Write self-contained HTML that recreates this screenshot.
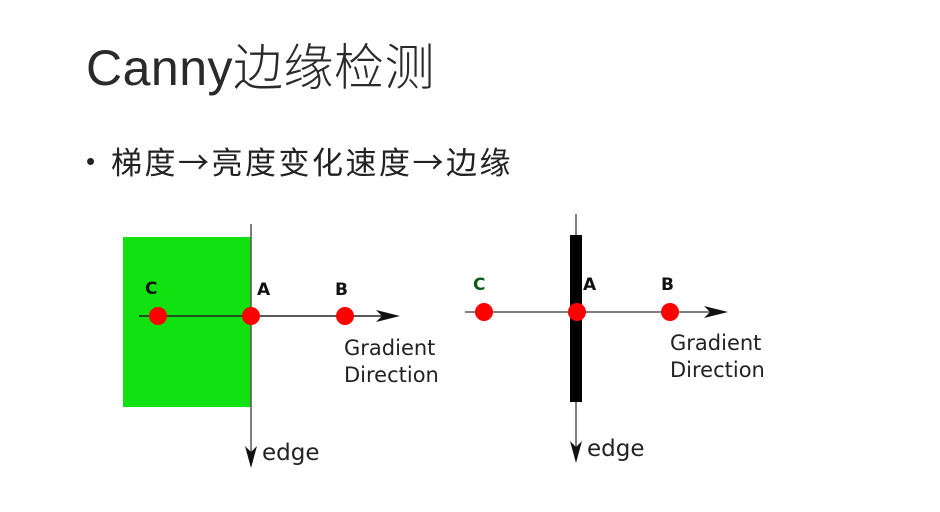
<!DOCTYPE html>
<html><head><meta charset="utf-8"><style>
body{margin:0;width:940px;height:512px;background:#fff;overflow:hidden;position:relative;font-family:"Liberation Sans","Noto Sans CJK SC",sans-serif}
.t{position:absolute;white-space:nowrap;color:#222}
</style></head><body>
<div class="t" style="left:86px;top:28px;font-size:50px;font-weight:300;color:#2a2a2a;letter-spacing:0.5px">Canny<span style="font-family:'Noto Sans CJK SC',sans-serif;font-weight:300">边缘检测</span></div>
<div class="t" style="left:86px;top:146px;font-size:26px;color:#222">•</div>
<div class="t" style="left:111px;top:138px;font-size:31px;color:#222;letter-spacing:2.5px;font-family:'Noto Sans CJK SC',sans-serif">梯度→亮度变化速度→边缘</div>
<svg width="940" height="512" style="position:absolute;left:0;top:0" font-family="DejaVu Sans, sans-serif">
<rect x="123" y="237" width="128" height="170" fill="#11e011"/>
<line x1="251" y1="224" x2="251" y2="465" stroke="#555" stroke-width="1.5"/>
<path d="M245 446 L251 468 L257 446 L251 452Z" fill="#111"/>
<line x1="139" y1="316" x2="392" y2="316" stroke="#222" stroke-width="1.5"/>
<path d="M376 310 L400 316 L376 322 L382 316Z" fill="#111"/>
<circle cx="158" cy="316" r="9" fill="#f00"/><circle cx="251" cy="316" r="9" fill="#f00"/><circle cx="345" cy="316" r="9" fill="#f00"/>
<g font-size="17" fill="#111" font-weight="bold">
<text x="145" y="294">C</text><text x="257" y="295">A</text><text x="335" y="295">B</text></g>
<g font-size="21" fill="#222"><text x="344" y="355">Gradient</text><text x="344" y="382">Direction</text><text x="262" y="460" font-size="23">edge</text></g>

<line x1="576" y1="214" x2="576" y2="460" stroke="#555" stroke-width="1.5"/>
<rect x="570" y="235" width="12" height="167" fill="#000"/>
<path d="M570 441 L576 463 L582 441 L576 447Z" fill="#111"/>
<line x1="465" y1="312" x2="720" y2="312" stroke="#555" stroke-width="1.5"/>
<path d="M704 306 L728 312 L704 318 L710 312Z" fill="#111"/>
<circle cx="484" cy="312" r="9" fill="#f00"/><circle cx="577" cy="312" r="9" fill="#f00"/><circle cx="670" cy="312" r="9" fill="#f00"/>
<g font-size="17" font-weight="bold"><text x="473" y="290" fill="#0a5a1a">C</text><text x="583" y="290" fill="#111">A</text><text x="661" y="290" fill="#111">B</text></g>
<g font-size="21" fill="#222"><text x="670" y="350">Gradient</text><text x="670" y="377">Direction</text><text x="587" y="456" font-size="23">edge</text></g>
</svg>
</body></html>
